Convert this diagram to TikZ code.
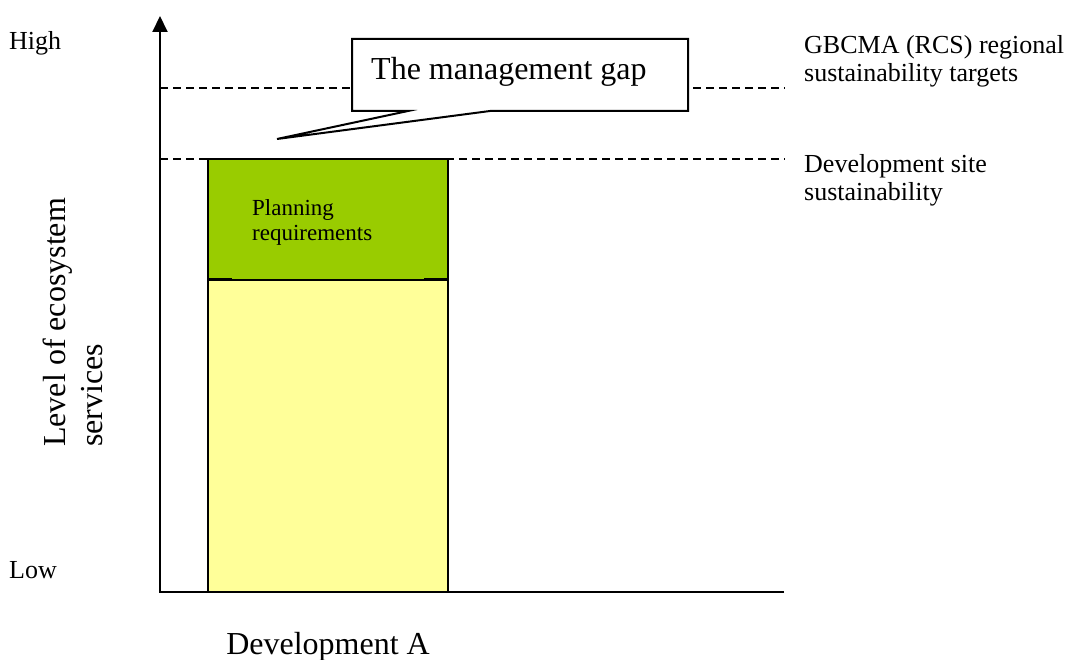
\documentclass[tikz,border=0pt]{standalone}
\usepackage{fontspec}
\setmainfont{Liberation Serif}
\usetikzlibrary{arrows.meta}
\definecolor{plangreen}{HTML}{99CC00}
\definecolor{baseyellow}{HTML}{FFFF99}
\tikzstyle{axis} = [line width=2pt,-{Triangle[width=15pt,length=16pt]}]
\tikzstyle{target} = [line width=1.4pt,dash pattern=on 8pt off 5pt]
\tikzstyle{bar} = [draw,line width=2pt]
\newcommand{\bigtxt}{\fontsize{32}{37}\selectfont}
\newcommand{\midtxt}{\fontsize{26}{28}\selectfont}
\newcommand{\smalltxt}{\fontsize{23}{25}\selectfont}

\begin{document}
\begin{tikzpicture}[x=1pt,y=-1pt,every node/.style={inner sep=0pt}]
      \useasboundingbox (0,0) rectangle (1077,660);
      % targets
      \draw[target](160,88)--(785,88);
      \draw[target](160,159)--(785,159);
      % bars
      \draw[bar,fill=baseyellow](208,280)rectangle(448,592);
      \fill[plangreen](208,159)rectangle(448,280);
      \draw[line width=2pt](208,280)--(208,159)--(448,159)--(448,280);
      \draw[line width=1pt](208,280)--(448,280);
      \draw[line width=2pt](208,279)--(232,279)(424,279)--(448,279);
      \node[anchor=north west,align=left,font=\smalltxt](plan) at (252,199){Planning\\requirements};
      % axes
      \draw[axis](784,592)--(160,592)--(160,16);
      \node[anchor=base west,font=\midtxt](high) at (9,50){High};
      \node[anchor=base west,font=\midtxt](low) at (9,578){Low};
      \node[anchor=north west,rotate=90,align=left,font=\bigtxt](level) at (43,447){Level of ecosystem\\services};
      \node[anchor=base,font=\bigtxt](dev) at (328,654){Development A};
      % callout
      \draw[fill=white,line width=2pt](352,39)--(688,39)--(688,111)--(490,111)--(277,139)--(408,111)--(352,111)--cycle;
      \node[anchor=base west,font=\bigtxt](gap) at (371,80){The management gap};
      \node[anchor=north west,align=left,font=\midtxt](regional) at (804,35){GBCMA (RCS) regional\\sustainability targets};
      \node[anchor=north west,align=left,font=\midtxt](site) at (804,154){Development site\\sustainability};
\end{tikzpicture}
\end{document}
